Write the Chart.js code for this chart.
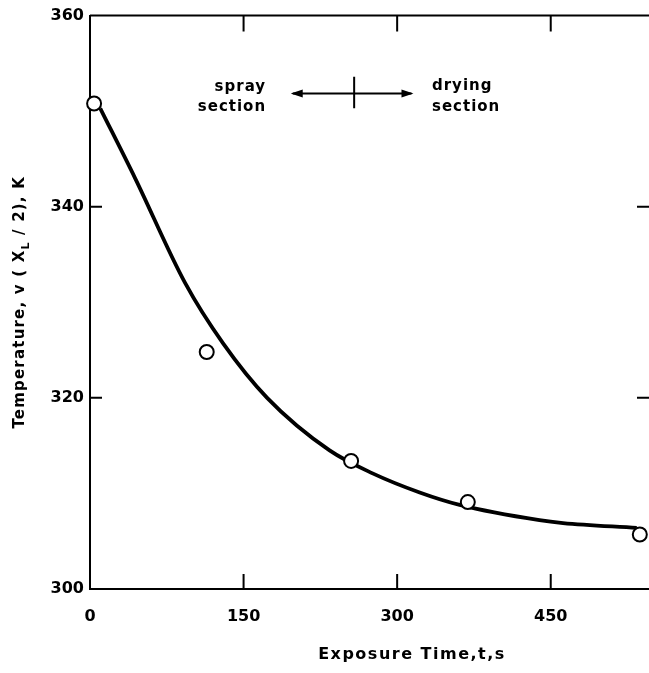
<!DOCTYPE html>
<html>
<head>
<meta charset="utf-8">
<script src="https://cdn.jsdelivr.net/npm/chart.js@4/dist/chart.umd.min.js"></script>
<style>
   html, body { margin: 0; padding: 0; background: #fff; }
   #wrap { width: 649px; height: 673px; }
</style>
</head>
<body>
<div id="wrap"><canvas id="temp-chart"></canvas></div>
<script>
// measured points (open circles)
const obsTime = [4, 114, 255, 369, 537];
const obsTemp = [350.8, 324.8, 313.4, 309.1, 305.7];

// fitted curve
const fitTime = [10, 44, 93, 130, 173, 234, 276, 322, 361, 439, 462, 534];
const fitTemp = [350.3, 343.0, 332.0, 325.7, 320.0, 314.5, 312.1, 310.1, 308.8, 307.2, 306.9, 306.4];

const xTicks = [0, 150, 300, 450];
const yTicks = [300, 320, 340, 360];

const FONT = "DejaVu Sans";

// inward ticks on all four sides, top border, titles, section marker
const framePlugin = {
   id: "frame",
   afterDraw(chart) {
      const ctx = chart.ctx;
      const a = chart.chartArea;
      const xs = chart.scales.x;
      const ys = chart.scales.y;
      ctx.save();
      ctx.strokeStyle = "#000";
      ctx.lineWidth = 2;
      // top border
      ctx.beginPath();
      ctx.moveTo(a.left, a.top);
      ctx.lineTo(chart.width, a.top);
      ctx.stroke();
      ctx.beginPath();
      xTicks.forEach(function (v) {
         if (v === 0) return;
         const px = xs.getPixelForValue(v);
         ctx.moveTo(px, a.bottom);
         ctx.lineTo(px, a.bottom - 15);
         ctx.moveTo(px, a.top);
         ctx.lineTo(px, a.top + 16);
      });
      yTicks.forEach(function (v) {
         if (v === 300 || v === 360) return;
         const py = ys.getPixelForValue(v);
         ctx.moveTo(a.left, py);
         ctx.lineTo(a.left + 12, py);
         ctx.moveTo(chart.width, py);
         ctx.lineTo(chart.width - 12, py);
      });
      ctx.stroke();

      // spray / drying section marker
      const yArrow = ys.getPixelForValue(351.85);
      const xL = xs.getPixelForValue(198);
      const xR = xs.getPixelForValue(314);
      const xC = xs.getPixelForValue(258);
      ctx.lineWidth = 2;
      ctx.beginPath();
      ctx.moveTo(xL, yArrow);
      ctx.lineTo(xR, yArrow);
      ctx.moveTo(xC, ys.getPixelForValue(353.6));
      ctx.lineTo(xC, ys.getPixelForValue(350.3));
      ctx.stroke();
      ctx.fillStyle = "#000";
      ctx.beginPath();
      ctx.moveTo(xL - 2, yArrow);
      ctx.lineTo(xL + 10, yArrow - 4);
      ctx.lineTo(xL + 10, yArrow + 4);
      ctx.closePath();
      ctx.moveTo(xR + 2, yArrow);
      ctx.lineTo(xR - 10, yArrow - 4);
      ctx.lineTo(xR - 10, yArrow + 4);
      ctx.closePath();
      ctx.fill();

      ctx.font = "bold 15px '" + FONT + "'";
      ctx.letterSpacing = "1px";
      ctx.textBaseline = "middle";
      ctx.textAlign = "right";
      const tx1 = xs.getPixelForValue(172);
      ctx.fillText("spray", tx1, 87);
      ctx.fillText("section", tx1, 107);
      ctx.textAlign = "left";
      const tx2 = xs.getPixelForValue(334);
      ctx.fillText("drying", tx2, 86);
      ctx.fillText("section", tx2, 107);

      // x axis title
      ctx.font = "bold 16px '" + FONT + "'";
      ctx.letterSpacing = "1.5px";
      ctx.textAlign = "center";
      ctx.fillText("Exposure Time,t,s", 412, 655);

      // y axis title with subscript L
      ctx.translate(20, (a.top + a.bottom) / 2);
      ctx.rotate(-Math.PI / 2);
      ctx.letterSpacing = "1.2px";
      const big = "bold 15px '" + FONT + "'";
      const small = "bold 11px '" + FONT + "'";
      const p1 = "Temperature, v ( X";
      const p2 = "L";
      const p3 = " / 2), K";
      ctx.font = big;
      const w1 = ctx.measureText(p1).width;
      const w3 = ctx.measureText(p3).width;
      ctx.font = small;
      const w2 = ctx.measureText(p2).width;
      const x0 = -(w1 + w2 + w3) / 2;
      ctx.textAlign = "left";
      ctx.font = big;
      ctx.fillText(p1, x0, 0);
      ctx.font = small;
      ctx.fillText(p2, x0 + w1, 6);
      ctx.font = big;
      ctx.fillText(p3, x0 + w1 + w2, 0);
      ctx.restore();
   },
};

document.addEventListener("DOMContentLoaded", function () {
   const ctx = document.getElementById("temp-chart").getContext("2d");
   const tempChart = new Chart(ctx, {
      type: "scatter",
      data: {
         datasets: [
            {
               label: "measured",
               data: obsTime.map((t, i) => ({ x: t, y: obsTemp[i] })),
               pointRadius: 7,
               pointHoverRadius: 7,
               pointBackgroundColor: "#fff",
               pointBorderColor: "#000",
               pointBorderWidth: 2,
               showLine: false,
               clip: false,
               order: 0,
            },
            {
               label: "fit",
               data: fitTime.map((t, i) => ({ x: t, y: fitTemp[i] })),
               showLine: true,
               borderColor: "#000",
               borderWidth: 3.8,
               pointRadius: 0,
               cubicInterpolationMode: "monotone",
               fill: false,
               order: 1,
            },
         ],
      },
      options: {
         responsive: true,
         maintainAspectRatio: false,
         animation: false,
         events: [],
         layout: { autoPadding: false, padding: { top: 15, right: 1, left: 0, bottom: 0 } },
         plugins: {
            legend: { display: false },
            tooltip: { enabled: false },
         },
         scales: {
            x: {
               type: "linear",
               min: 0,
               max: 545,
               afterBuildTicks: (scale) => { scale.ticks = xTicks.map((v) => ({ value: v })); },
               afterFit: (scale) => {
                  scale.height = 84;
                  scale.paddingLeft = 0;
                  scale.paddingRight = 0;
               },
               grid: { display: false, drawTicks: false },
               border: { display: true, color: "#000", width: 2 },
               ticks: {
                  color: "#000",
                  padding: 18,
                  maxRotation: 0,
                  font: { family: FONT, size: 16, weight: "bold" },
               },
            },
            y: {
               type: "linear",
               min: 300,
               max: 360,
               afterBuildTicks: (scale) => { scale.ticks = yTicks.map((v) => ({ value: v })); },
               afterFit: (scale) => { scale.width = 90; },
               grid: { display: false, drawTicks: false },
               border: { display: true, color: "#000", width: 2 },
               ticks: {
                  color: "#000",
                  padding: 6,
                  font: { family: FONT, size: 16, weight: "bold" },
               },
            },
         },
      },
      plugins: [framePlugin],
   });
});
</script>
</body>
</html>
